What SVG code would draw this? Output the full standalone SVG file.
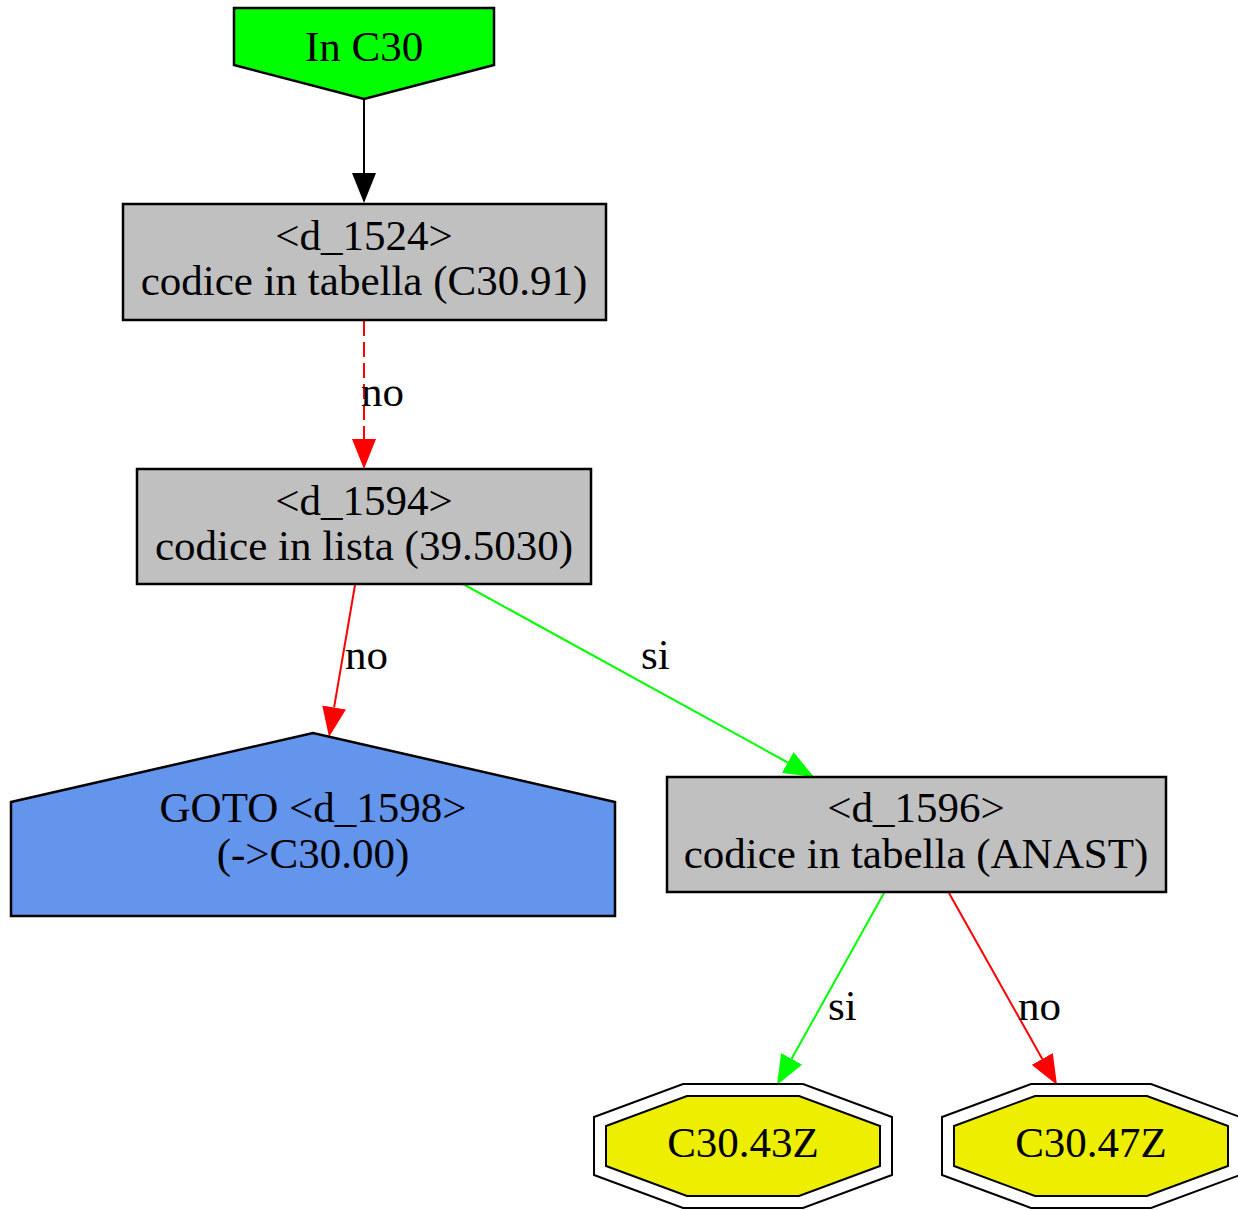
<svg xmlns="http://www.w3.org/2000/svg" width="1238" height="1210" viewBox="0 0 1238 1210">
<defs>
<style>
text{font-family:"Liberation Serif","DejaVu Serif",serif;font-size:43px;fill:#000;text-anchor:middle}
text.lbl{text-anchor:start}
.node{stroke:#000;stroke-width:2.5}
.box{fill:#c0c0c0}
.edge{fill:none;stroke-width:2}
.oct{fill:none;stroke:#000;stroke-width:2}
</style>
<marker id="ah-black" viewBox="0 0 30 24" refX="0" refY="12" markerWidth="30" markerHeight="24" markerUnits="userSpaceOnUse" orient="auto"><path d="M0,0 L30,12 L0,24 z" fill="#000"/></marker>
<marker id="ah-red" viewBox="0 0 30 24" refX="0" refY="12" markerWidth="30" markerHeight="24" markerUnits="userSpaceOnUse" orient="auto"><path d="M0,0 L30,12 L0,24 z" fill="#ff0000"/></marker>
<marker id="ah-green" viewBox="0 0 30 24" refX="0" refY="12" markerWidth="30" markerHeight="24" markerUnits="userSpaceOnUse" orient="auto"><path d="M0,0 L30,12 L0,24 z" fill="#00ff00"/></marker>
</defs>
<rect width="1238" height="1210" fill="#fff"/>

<g id="connectors">
<line class="edge" x1="364" y1="99" x2="364" y2="173" stroke="#000" marker-end="url(#ah-black)"/>
<line class="edge" x1="364" y1="321" x2="364" y2="439" stroke="#ff0000" stroke-dasharray="15,6" marker-end="url(#ah-red)"/>
<text class="lbl" x="361" y="406">no</text>
<line class="edge" x1="355" y1="585" x2="334.1" y2="707.4" stroke="#ff0000" marker-end="url(#ah-red)"/>
<text class="lbl" x="345" y="669">no</text>
<line class="edge" x1="463" y1="584" x2="787.7" y2="762.5" stroke="#00ff00" marker-end="url(#ah-green)"/>
<text class="lbl" x="641" y="669">si</text>
<line class="edge" x1="884" y1="893" x2="791.6" y2="1058.8" stroke="#00ff00" marker-end="url(#ah-green)"/>
<text class="lbl" x="828" y="1020">si</text>
<line class="edge" x1="949" y1="893" x2="1042.3" y2="1058.9" stroke="#ff0000" marker-end="url(#ah-red)"/>
<text class="lbl" x="1018" y="1020">no</text>
</g>

<g id="start">
<polygon class="node" fill="#00ff00" points="234,8 494,8 494,65 364,99 234,65"/>
<text x="364" y="61">In C30</text>
</g>

<g id="d_1524">
<rect class="node box" x="123" y="204" width="483" height="116"/>
<text x="364" y="250">&lt;d_1524&gt;</text>
<text x="364" y="295">codice in tabella (C30.91)</text>
</g>

<g id="d_1594">
<rect class="node box" x="137" y="469" width="454" height="115"/>
<text x="364" y="515">&lt;d_1594&gt;</text>
<text x="364" y="560">codice in lista (39.5030)</text>
</g>

<g id="goto_d_1598">
<polygon class="node" fill="#6495ed" points="11,802 313,733 615,802 615,916 11,916"/>
<text x="313" y="822">GOTO &lt;d_1598&gt;</text>
<text x="313" y="868">(-&gt;C30.00)</text>
</g>

<g id="d_1596">
<rect class="node box" x="667" y="777" width="499" height="115"/>
<text x="916" y="822">&lt;d_1596&gt;</text>
<text x="916" y="868">codice in tabella (ANAST)</text>
</g>

<g id="C30_43Z">
<polygon class="oct" points="683,1084 803,1084 892,1117 892,1175 803,1208 683,1208 594,1175 594,1117"/>
<polygon class="oct" fill="#eeee00" style="fill:#eeee00" points="687,1096 799,1096 880,1126 880,1166 799,1196 687,1196 606,1166 606,1126"/>
<text x="743" y="1157">C30.43Z</text>
</g>

<g id="C30_47Z">
<polygon class="oct" points="1031,1084 1151,1084 1240,1117 1240,1175 1151,1208 1031,1208 942,1175 942,1117"/>
<polygon class="oct" style="fill:#eeee00" points="1035,1096 1147,1096 1228,1126 1228,1166 1147,1196 1035,1196 954,1166 954,1126"/>
<text x="1091" y="1157">C30.47Z</text>
</g>
</svg>
